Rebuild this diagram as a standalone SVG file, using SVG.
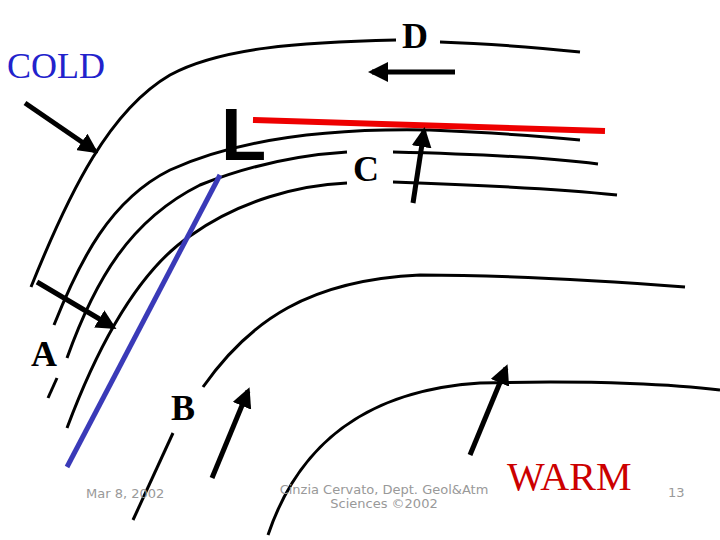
<svg xmlns="http://www.w3.org/2000/svg" width="720" height="540" viewBox="0 0 720 540">
<style>
.iso{fill:none;stroke:#000;stroke-width:3}
.arr{stroke:#000;stroke-width:5;marker-end:url(#ah)}
.lbl{font-family:"Liberation Serif",serif;font-weight:bold;font-size:36px;fill:#000}
.ft{font-family:"DejaVu Sans",sans-serif;font-size:13px;fill:#999}
</style>
<defs><marker id="ah" viewBox="0 0 10 10" refX="8" refY="5" markerWidth="4" markerHeight="4" orient="auto" markerUnits="strokeWidth"><path d="M0,0L10,5L0,10z" fill="#000"/></marker></defs>
<rect width="720" height="540" fill="#fff"/>
<g id="isobars">
<path class="iso" d="M31,287 C70,190 110,110 170,75 C220,48 300,42 396,40"/>
<path class="iso" d="M440,42 C500,44 540,48 580,52"/>
<path class="iso" d="M54,325 C80,260 110,200 170,170 C240,138 330,128 430,130 C500,133 540,136 580,140"/>
<path class="iso" d="M67,358 C95,280 130,220 200,185 C250,165 300,155 347,152"/>
<path class="iso" d="M393,152 C480,154 550,158 598,164"/>
<path class="iso" d="M67,428 C100,340 140,270 190,236 C240,200 300,185 347,183"/>
<path class="iso" d="M393,182 C480,185 560,189 617,195"/>
<path class="iso" d="M203,387 C250,320 310,280 420,275 C520,275 620,282 685,287"/>
<path class="iso" d="M268,535 C300,440 370,390 480,383 C600,380 680,385 720,390"/>
<path class="iso" d="M133,520 L173,433"/>
<path class="iso" d="M48,398 L57,378"/>
</g>
<g id="fronts">
<path d="M253,120 L605,131" stroke="#e00" stroke-width="6"/>
<path d="M220,175 L67,467" stroke="#3a3ab8" stroke-width="5"/>
</g>
<g id="connectors">
<path class="arr" d="M25,103 L95,151"/>
<path class="arr" d="M37,282 L113,327"/>
<path class="arr" d="M455,72 L372,72"/>
<path class="arr" d="M413,203 L424,131"/>
<path class="arr" d="M212,478 L248,391"/>
<path class="arr" d="M470,455 L506,368"/>
</g>
<g id="labels">
<text x="221" y="160" font-family="Liberation Sans,sans-serif" font-weight="bold" font-size="74" fill="#000">L</text>
<text x="7" y="78" font-family="Liberation Serif,serif" font-size="36" fill="#2222cc">COLD</text>
<text class="lbl" x="402" y="48">D</text>
<text class="lbl" x="353" y="181">C</text>
<text class="lbl" x="31" y="366">A</text>
<text class="lbl" x="171" y="420">B</text>
<text x="507" y="490" font-family="Liberation Serif,serif" font-size="40" fill="#cc0000">WARM</text>
<text class="ft" x="86" y="498">Mar 8, 2002</text>
<text class="ft" x="384" y="494" text-anchor="middle">Cinzia Cervato, Dept. Geol&amp;Atm</text>
<text class="ft" x="384" y="508" text-anchor="middle">Sciences ©2002</text>
<text class="ft" x="668" y="497">13</text>
</g>
</svg>
